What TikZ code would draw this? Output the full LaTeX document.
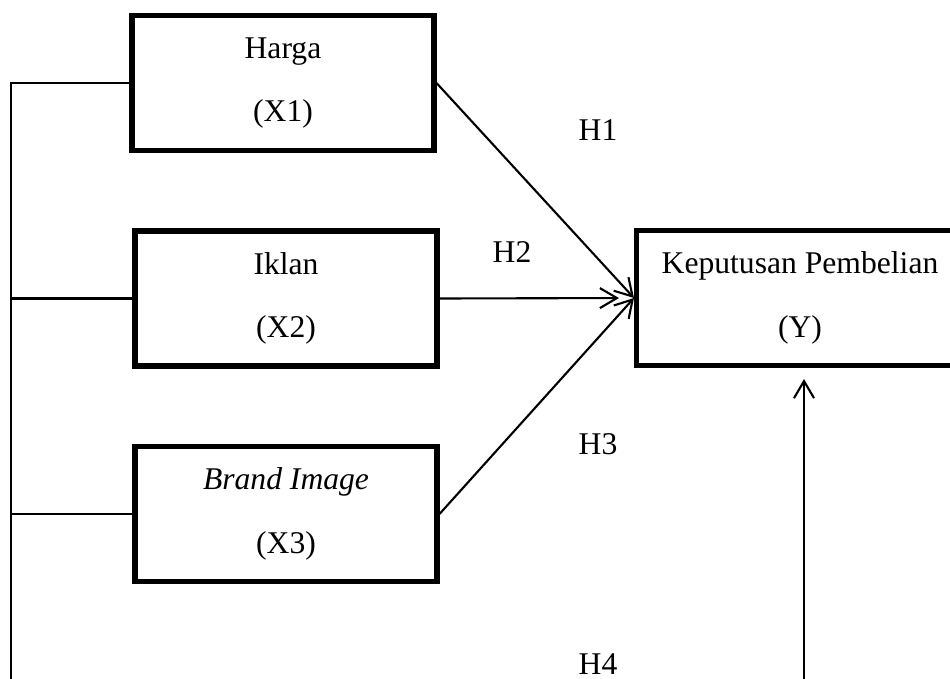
\documentclass[tikz,border=0pt]{standalone}
\usepackage{fontspec}
\setmainfont{Liberation Serif}
\usetikzlibrary{arrows.meta}

\begin{document}
\begin{tikzpicture}[x=0.02cm, y=-0.02cm,
    every node/.style={font=\fontsize{18}{36}\selectfont},
    box/.style={draw, line width=2.9pt, align=center, minimum width=6.04cm, minimum height=2.7cm},
    link/.style={line width=1.2pt},
    arrow/.style={link, -{Straight Barb[length=0.34cm, width=0.4cm, line width=1.2pt]}}]
  \useasboundingbox (0,0) rectangle (950,679);

  % Variable boxes
  \node[box] (harga) at (283,83) {Harga\\(X1)};
  \node[box] (iklan) at (286,298.5) {Iklan\\(X2)};
  \node[box] (brand) at (286,514) {\textit{Brand Image}\\(X3)};
  \node[box, minimum width=6.54cm] (keputusan) at (800,298) {Keputusan Pembelian\\(Y)};

  % Hypothesis labels
  \node (h1) at (598,130) {H1};
  \node (h2) at (512,252) {H2};
  \node (h3) at (598,444) {H3};
  \node[anchor=base] (h4) at (598,674) {H4};

  % Left bracket joining X1, X2, X3
  \coordinate (spine) at (11,690);
  \draw[link] (harga.west) -| (spine);
  \draw[link] (iklan.west) -- (iklan.west -| spine);
  \draw[link] (brand.west) -- (brand.west -| spine);

  % Partial effects
  \draw[arrow] (harga.east) -- (keputusan.west);
  \draw[arrow, shorten >=0.3cm] (iklan.east) -- (keputusan.west);
  \draw[arrow] (brand.east) -- (keputusan.west);

  % Simultaneous effect
  \coordinate (bottom) at (804,690);
  \draw[arrow, shorten >=0.22cm] (bottom) -- (bottom |- keputusan.south);
\end{tikzpicture}
\end{document}
